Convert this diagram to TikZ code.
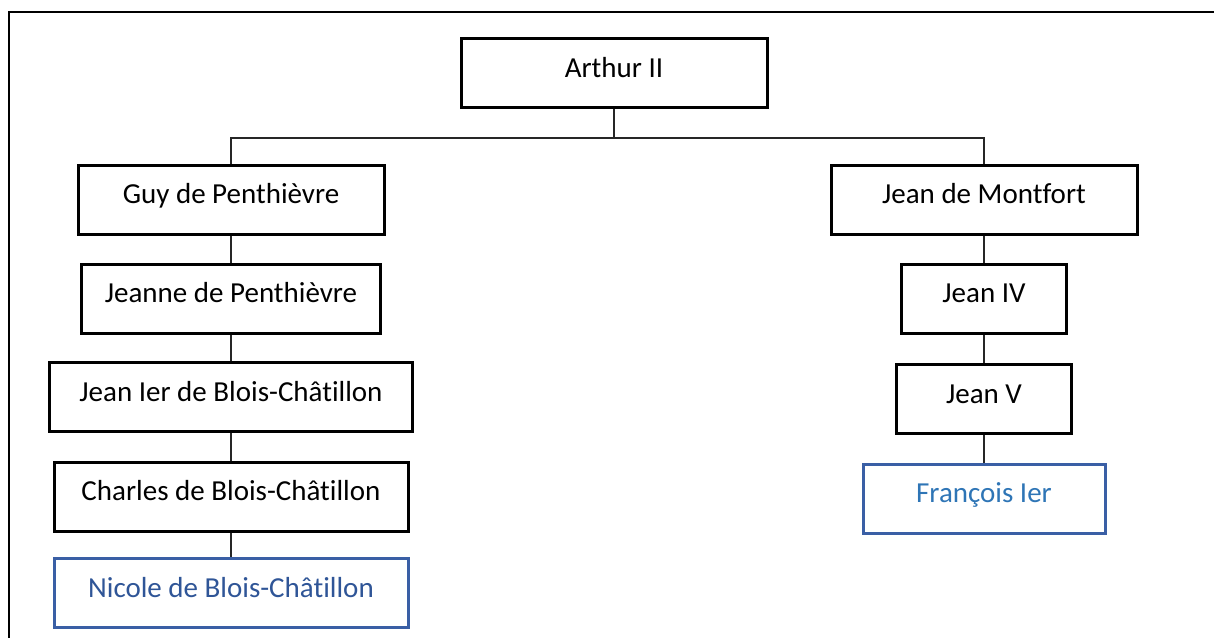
\documentclass[tikz,border=0pt]{standalone}
\usepackage{fontspec}
\setmainfont{Carlito}[RawFeature={-liga;-clig;-calt;-dlig}]
\definecolor{boxblue}{HTML}{3A5FA5}
\definecolor{nicoletext}{HTML}{2F5597}
\definecolor{francoistext}{HTML}{2E75B6}
\tikzset{
  person/.style={draw=black, line width=3pt, rectangle, minimum height=69pt,
    inner sep=0pt, text height=18.6pt, text depth=10pt,
    font=\fontsize{29pt}{34pt}\selectfont},
  heir/.style={person, draw=boxblue},
  link/.style={line width=1.3pt, draw=black!85},
  frame/.style={line width=2pt, draw=black}
}
\begin{document}
\begin{tikzpicture}[x=1pt,y=-1pt]
\useasboundingbox (0,0) rectangle (1214,637);
\fill[white] (0,0) rectangle (1214,637);
\draw[frame] (9,645) -- (9,12) -- (1222,12);

\node[person, minimum width=306pt] (arthur) at (614,73) {Arthur II};

\node[person, minimum width=306pt] (guy) at (231,199.5) {Guy de Penthièvre};
\node[person, minimum width=299pt] (jeanne) at (231,298.5) {Jeanne de Penthièvre};
\node[person, minimum width=363pt] (jean1) at (231,397) {Jean Ier de Blois-Châtillon};
\node[person, minimum width=354pt] (charles) at (231,496.5) {Charles de Blois-Châtillon};
\node[heir, minimum width=354pt, text=nicoletext] (nicole) at (231,593) {Nicole de Blois-Châtillon};

\node[person, minimum width=306pt] (montfort) at (984,199.5) {Jean de Montfort};
\node[person, minimum width=165pt] (jean4) at (984,298.5) {Jean IV};
\node[person, minimum width=175pt] (jean5) at (984,399) {Jean V};
\node[heir, minimum width=242pt, text=francoistext] (francois) at (984,498.5) {François Ier};

\coordinate (bus) at (614,138);
\draw[link] (arthur.south) -- (bus);
\draw[link] (guy.north) |- (bus) -| (montfort.north);

\draw[link] (guy.south) -- (jeanne.north);
\draw[link] (jeanne.south) -- (jean1.north);
\draw[link] (jean1.south) -- (charles.north);
\draw[link] (charles.south) -- (nicole.north);

\draw[link] (montfort.south) -- (jean4.north);
\draw[link] (jean4.south) -- (jean5.north);
\draw[link] (jean5.south) -- (francois.north);
\end{tikzpicture}
\end{document}
